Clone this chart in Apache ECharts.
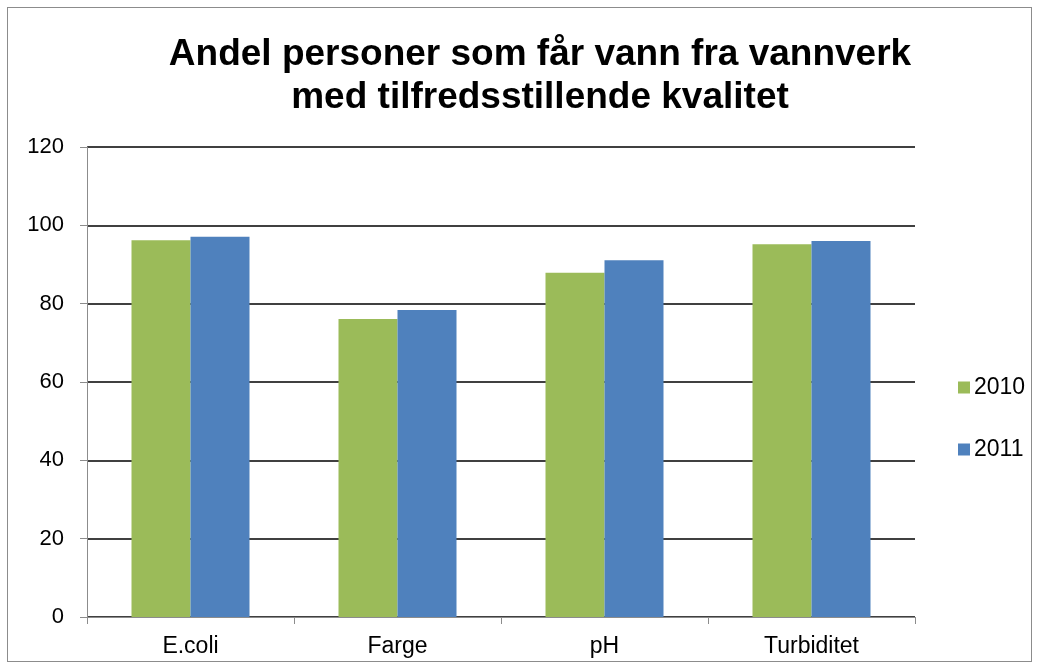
<!DOCTYPE html>
<html>
<head>
<meta charset="utf-8">
<script src="https://cdn.jsdelivr.net/npm/echarts@6/dist/echarts.min.js"></script>
<style>
  html, body { margin: 0; padding: 0; background: #fff; }
  #frame {
    position: absolute; left: 7px; top: 7px; width: 1025px; height: 655px;
    border: 1px solid #8c8c8c; box-sizing: border-box;
  }
  #chart { position: absolute; left: 0; top: 0; width: 1041px; height: 671px; }
</style>
</head>
<body>
<div id="frame"></div>
<div id="chart"></div>
<script>
const categories = ['E.coli', 'Farge', 'pH', 'Turbiditet']
const values2010 = [96.2, 76.1, 87.9, 95.2]
const values2011 = [97.1, 78.4, 91.1, 96.0]
const yTicks = { min: 0, max: 120, interval: 20 }

const chart = echarts.init(document.getElementById('chart'))
const font = 'Arial, "Liberation Sans", sans-serif'

chart.setOption({
  animation: false,
  title: {
    text: 'Andel personer som får vann fra vannverk\nmed tilfredsstillende kvalitet',
    left: 535,
    textAlign: 'center',
    top: 28,
    textStyle: { fontFamily: font, fontSize: 37, fontWeight: 'bold', color: '#000', lineHeight: 43 }
  },
  legend: {
    orient: 'vertical',
    left: 953,
    top: 371,
    itemGap: 39,
    itemWidth: 12,
    itemHeight: 12,
    icon: 'rect',
    textStyle: { fontFamily: font, fontSize: 23, color: '#000', padding: [0, 0, 0, -1] },
    data: ['2010', '2011']
  },
  grid: { left: 87, right: 126, top: 147, bottom: 54, containLabel: false },
  xAxis: {
    type: 'category',
    data: categories,
    axisLine: { lineStyle: { color: '#8c8c8c', width: 1 } },
    axisTick: { show: true, alignWithLabel: false, length: 7, lineStyle: { color: '#8c8c8c' } },
    axisLabel: { fontFamily: font, fontSize: 23, color: '#000', margin: 18 }
  },
  yAxis: {
    type: 'value',
    min: yTicks.min,
    max: yTicks.max,
    interval: yTicks.interval,
    axisLine: { show: true, lineStyle: { color: '#8c8c8c', width: 1 } },
    axisTick: { show: true, length: 7, lineStyle: { color: '#8c8c8c' } },
    axisLabel: { fontFamily: font, fontSize: 22, color: '#000', margin: 23 },
    splitLine: { show: true, lineStyle: { color: '#000', width: 1.5 } }
  },
  series: [
    {
      name: '2010',
      type: 'bar',
      data: values2010,
      barWidth: 59,
      barGap: '0%',
      itemStyle: { color: '#9bbb59' }
    },
    {
      name: '2011',
      type: 'bar',
      data: values2011,
      barWidth: 59,
      barGap: '0%',
      itemStyle: { color: '#4f81bd' }
    }
  ]
})
</script>
</body>
</html>
